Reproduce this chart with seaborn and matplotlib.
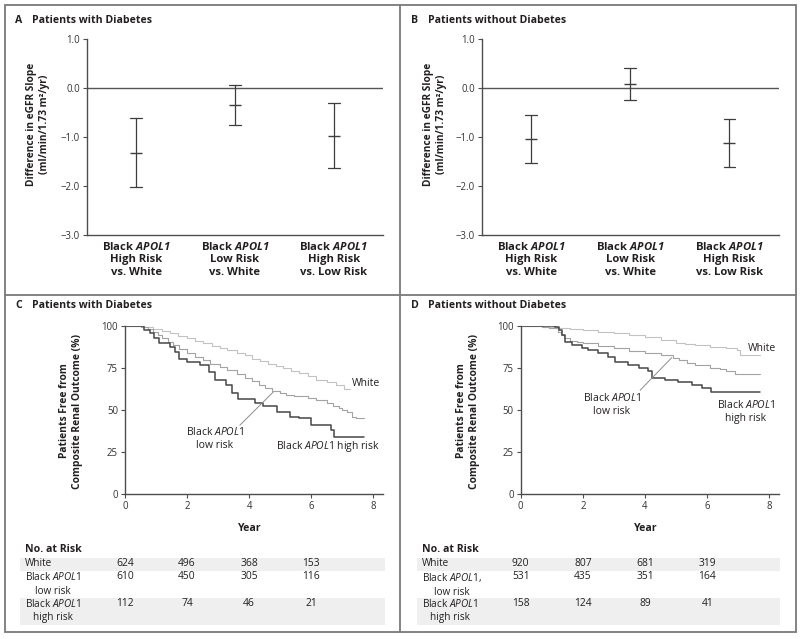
import matplotlib
matplotlib.use("Agg")
import matplotlib.pyplot as plt
import seaborn as sns
import pandas as pd
from matplotlib.lines import Line2D
from matplotlib.patches import Rectangle
from matplotlib.transforms import blended_transform_factory

# ---- data -------------------------------------------------------------
comparisons = [
    "Black $\\mathbfit{APOL1}$\nHigh Risk\nvs. White",
    "Black $\\mathbfit{APOL1}$\nLow Risk\nvs. White",
    "Black $\\mathbfit{APOL1}$\nHigh Risk\nvs. Low Risk",
]
# difference in eGFR slope (estimate, lower, upper)
A_mid = [-1.32, -0.35, -0.97]
A_low = [-2.02, -0.75, -1.64]
A_high = [-0.62, 0.06, -0.31]
B_mid = [-1.05, 0.08, -1.12]
B_low = [-1.54, -0.25, -1.61]
B_high = [-0.56, 0.40, -0.63]

# Kaplan-Meier curves, panel C (with diabetes)
C_white_t = [0, 0.5, 0.9, 1.2, 1.45, 1.7, 2.0, 2.25, 2.5, 2.8, 3.05, 3.3, 3.6, 3.85, 4.1, 4.35, 4.6,
             4.85, 5.1, 5.35, 5.6, 5.9, 6.15, 6.5, 6.8, 7.05, 7.25]
C_white_s = [100, 99.5, 98, 97, 95.4, 94, 92.5, 91, 89.5, 88, 86.5, 85.5, 84, 82.5, 80.5, 79, 77.5,
             76, 74.7, 73, 71.7, 70, 68, 66.5, 64.8, 62.5, 62.5]
C_low_t = [0, 0.5, 0.75, 0.9, 1.05, 1.2, 1.4, 1.55, 1.75, 2.0, 2.25, 2.5, 2.75, 3.05, 3.3, 3.6, 3.85,
           4.1, 4.3, 4.5, 4.75, 5.0, 5.2, 5.45, 5.65, 5.9, 6.15, 6.5, 6.7, 6.9, 7.0, 7.15, 7.3, 7.45, 7.7]
C_low_s = [100, 99, 98, 96.5, 94.5, 92.5, 90.5, 88.5, 86, 83.5, 81.5, 79.5, 77.5, 75.5, 73.5, 71.5, 69,
           67, 65, 63, 61, 60, 59, 58.5, 58, 57, 56, 54, 52.5, 51, 50, 48.5, 46, 45, 45]
C_high_t = [0, 0.6, 0.8, 0.95, 1.1, 1.45, 1.6, 1.75, 2.0, 2.4, 2.7, 2.9, 3.25, 3.45, 3.65, 4.2, 4.45, 4.9,
            5.3, 5.6, 6.0, 6.65, 6.72, 7.7]
C_high_s = [100, 97.5, 95.5, 92.5, 89.5, 87.5, 84.5, 80.5, 78.5, 76.5, 72.5, 67.5, 65, 60, 56.5, 54, 52.5, 49,
            46, 45, 41, 38, 34, 34]

# Kaplan-Meier curves, panel D (without diabetes)
D_white_t = [0, 0.7, 1.2, 1.6, 2.0, 2.5, 3.0, 3.5, 4.0, 4.5, 5.0, 5.3, 5.6, 6.1, 6.6, 6.95, 7.05, 7.7]
D_white_s = [100, 99.5, 98.5, 98, 97.5, 96.5, 95.5, 94.3, 93, 91.5, 89.5, 89, 88.5, 87.5, 86.5, 85.5, 82.5, 82.5]
D_low_t = [0, 0.7, 0.9, 1.2, 1.3, 1.4, 1.6, 1.8, 2.0, 2.5, 3.0, 3.5, 4.0, 4.5, 4.9, 5.1, 5.35, 5.6,
           6.1, 6.4, 6.6, 6.9, 7.7]
D_low_s = [100, 99.5, 98.5, 96.5, 94.5, 92.5, 91, 90.2, 89.5, 88, 86.5, 85, 83.5, 82.5, 81, 79.5, 78, 76.5,
           75, 74, 73, 71.5, 71.5]
D_high_t = [0, 1.1, 1.22, 1.32, 1.43, 1.64, 1.96, 2.18, 2.5, 2.82, 3.04, 3.46, 3.79, 4.11, 4.22, 4.64,
            5.07, 5.5, 5.82, 6.12, 7.7]
D_high_s = [100, 99, 97.4, 94.4, 90.5, 88.5, 87, 85.5, 83.6, 81.6, 78.6, 76.7, 74.7, 73, 69.2, 67.8,
            66.8, 64.8, 62.8, 60.9, 60.9]

risk_years = [0, 2, 4, 6]
C_risk_white = [624, 496, 368, 153]
C_risk_low = [610, 450, 305, 116]
C_risk_high = [112, 74, 46, 21]
D_risk_white = [920, 807, 681, 319]
D_risk_low = [531, 435, 351, 164]
D_risk_high = [158, 124, 89, 41]

# ---- style ------------------------------------------------------------
sns.set_theme(style="ticks")
FONT = "Open Sans"
plt.rcParams["font.family"] = [FONT, "DejaVu Sans"]
plt.rcParams["mathtext.fontset"] = "custom"
plt.rcParams["mathtext.rm"] = FONT
plt.rcParams["mathtext.it"] = FONT + ":italic"
plt.rcParams["mathtext.bf"] = FONT + ":bold"
plt.rcParams["mathtext.bfit"] = FONT + ":italic:bold"

TXT = "#231f20"
AX = "#4d4d4d"
W, H = 800, 639


def fx(px):
    return px / W


def fy(py):
    return 1 - py / H


def style_axes(ax):
    sns.despine(ax=ax)
    for s in ["left", "bottom"]:
        ax.spines[s].set_color(AX)
        ax.spines[s].set_linewidth(1.0)
    ax.tick_params(axis="both", length=3, width=0.8, color=AX, labelsize=6.9,
                   labelcolor="#333333", pad=2)


def slope_panel(ax, mid, low, high, label_x):
    df = pd.DataFrame({
        "comparison": comparisons * 3,
        "value": low + mid + high,
    })
    ax.axhline(0, color="#555555", lw=1.0, zorder=1)
    sns.pointplot(data=df, x="comparison", y="value", order=comparisons,
                  estimator="median", errorbar=lambda v: (v.min(), v.max()),
                  color="#3d3d3d", linestyle="none", marker="_", markersize=9,
                  markeredgewidth=1.0, capsize=0.12, err_kws={"linewidth": 0.9},
                  ax=ax)
    style_axes(ax)
    ax.set_xlim(-0.5, 2.5)
    ax.set_ylim(-3, 1)
    ticks = [1, 0, -1, -2, -3]
    ax.set_yticks(ticks)
    ax.set_yticklabels([f"{v:.1f}".replace("-", "\u2212") for v in ticks])
    ax.set_xticks(range(3))
    ax.set_xticklabels(comparisons, fontsize=8.1, fontweight="bold", color=TXT,
                       linespacing=1.22)
    ax.tick_params(axis="x", length=0, pad=4)
    ax.set_xlabel("")
    ax.set_ylabel("Difference in eGFR Slope\n(ml/min/1.73 m²/yr)", fontsize=7.3,
                  fontweight="bold", color=TXT, linespacing=1.25)
    ax.yaxis.set_label_coords(label_x, 0.565)


def km_panel(fig, ax, curves, label_x):
    colors = ["#c2c2c2", "#a3a3a3", "#474747"]
    widths = [0.8, 0.8, 1.1]
    for (t, s), c, lw in zip(curves, colors, widths):
        df = pd.DataFrame({"year": t, "surv": s})
        sns.lineplot(data=df, x="year", y="surv", drawstyle="steps-post",
                     estimator=None, sort=False, color=c, linewidth=lw, ax=ax)
    style_axes(ax)
    ax.set_xlim(0, 8.31)
    ax.set_ylim(0, 100)
    ax.set_xticks([0, 2, 4, 6, 8])
    ax.set_yticks([0, 25, 50, 75, 100])
    ax.set_xlabel("Year", fontsize=7.6, fontweight="bold", color=TXT)
    ax.xaxis.set_label_coords(0.484, -0.175)
    ax.set_ylabel("Patients Free from\nComposite Renal Outcome (%)", fontsize=7.4,
                  fontweight="bold", color=TXT, linespacing=1.25)
    ax.yaxis.set_label_coords(label_x, 0.493)


def risk_table(fig, ax, x0, x1, row_labels, rows):
    tr = blended_transform_factory(ax.transData, fig.transFigure)
    fig.text(fx(x0 + 5), fy(550), "No. at Risk", fontsize=7.6, fontweight="bold",
             color=TXT, va="center", ha="left")
    fig.add_artist(Rectangle((fx(x0), fy(571)), fx(x1 - x0), 13 / H,
                             color="#efefef", lw=0, zorder=0))
    fig.add_artist(Rectangle((fx(x0), fy(625)), fx(x1 - x0), 27 / H,
                             color="#efefef", lw=0, zorder=0))
    ys = [564.3, 577.7, 604.3]
    for lab, vals, y in zip(row_labels, rows, ys):
        fig.text(fx(x0 + 5), fy(y - 6.5), lab, fontsize=7.2, color=TXT, va="top",
                 ha="left", multialignment="center", linespacing=1.3)
        for yr, v in zip(risk_years, vals):
            ax.text(yr, fy(y - 6.5), str(v), transform=tr, fontsize=7.4, color=TXT,
                    ha="center", va="top")


fig = plt.figure(figsize=(8, 6.39), dpi=100)

# panel frames
frame_kw = dict(color="#7a7a7a", lw=1.3, transform=fig.transFigure)
fig.add_artist(Rectangle((fx(5), fy(632)), fx(791), 627 / H, fill=False,
                         ec="#7a7a7a", lw=1.3, transform=fig.transFigure))
fig.add_artist(Line2D([fx(400), fx(400)], [fy(5), fy(632)], **frame_kw))
fig.add_artist(Line2D([fx(5), fx(796)], [fy(295), fy(295)], **frame_kw))

titles = [("A", "Patients with Diabetes", 15, 20.7),
          ("B", "Patients without Diabetes", 411, 20.7),
          ("C", "Patients with Diabetes", 15, 306),
          ("D", "Patients without Diabetes", 411, 306)]
for letter, text, x, y in titles:
    fig.text(fx(x), fy(y), letter, fontsize=7.6, fontweight="bold", color=TXT, va="center")
    fig.text(fx(x + 17), fy(y), text, fontsize=7.6, fontweight="bold", color=TXT, va="center")

axA = fig.add_axes([fx(87), fy(235), fx(296), 196 / H])
axB = fig.add_axes([fx(481.7), fy(235), fx(297.3), 196 / H])
axC = fig.add_axes([fx(125), fy(494), fx(258), 168.3 / H])
axD = fig.add_axes([fx(520.7), fy(494), fx(258.3), 168.3 / H])

slope_panel(axA, A_mid, A_low, A_high, -0.125)
slope_panel(axB, B_mid, B_low, B_high, -0.118)

km_panel(fig, axC, [(C_white_t, C_white_s), (C_low_t, C_low_s), (C_high_t, C_high_s)], -0.162)
km_panel(fig, axD, [(D_white_t, D_white_s), (D_low_t, D_low_s), (D_high_t, D_high_s)], -0.158)

lab_kw = dict(fontsize=7.5, color=TXT, linespacing=1.25)
axC.text(8.22, 65.6, "White", ha="right", va="center", **lab_kw)
axC.text(8.22, 28.5, "Black $\\mathit{APOL1}$ high risk", ha="right", va="center", **lab_kw)
axC.text(2.9, 33, "Black $\\mathit{APOL1}$\nlow risk", ha="center", va="center",
         multialignment="center", **lab_kw)
axC.plot([3.7, 4.77], [40.9, 60.5], color="#8c8c8c", lw=0.7)

axD.text(8.22, 86.3, "White", ha="right", va="center", **lab_kw)
axD.text(7.24, 49, "Black $\\mathit{APOL1}$\nhigh risk", ha="center", va="center",
         multialignment="center", **lab_kw)
axD.text(2.93, 53.3, "Black $\\mathit{APOL1}$\nlow risk", ha="center", va="center",
         multialignment="center", **lab_kw)
axD.plot([3.84, 4.86], [61.6, 81], color="#8c8c8c", lw=0.7)

risk_table(fig, axC, 20, 385,
           ["White", "Black $\\mathit{APOL1}$\nlow risk", "Black $\\mathit{APOL1}$\nhigh risk"],
           [C_risk_white, C_risk_low, C_risk_high])
risk_table(fig, axD, 417, 780,
           ["White", "Black $\\mathit{APOL1}$,\nlow risk", "Black $\\mathit{APOL1}$\nhigh risk"],
           [D_risk_white, D_risk_low, D_risk_high])

fig.savefig("out.png", dpi=100)
